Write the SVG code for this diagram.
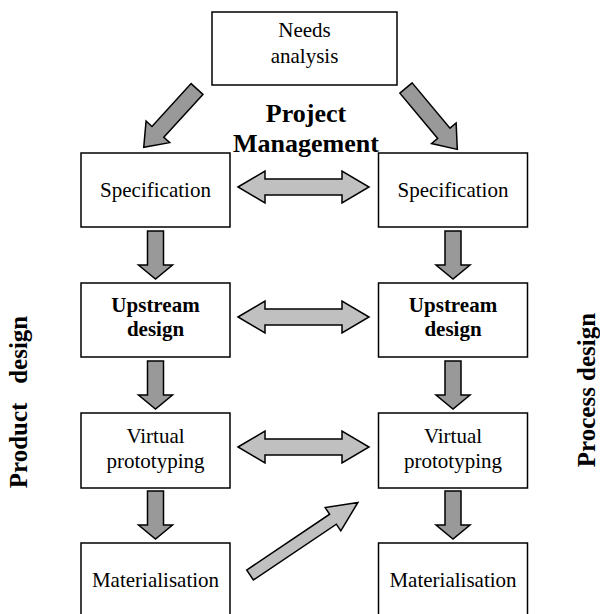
<svg xmlns="http://www.w3.org/2000/svg" xmlns:xlink="http://www.w3.org/1999/xlink" width="600" height="614" viewBox="0 0 600 614">
<style>
.box{fill:#fff;stroke:#000;stroke-width:1.5}
.t{font-family:"Liberation Serif","Times New Roman",serif;font-size:21px;fill:#000;text-anchor:middle}
.b{font-weight:bold}
.dark{fill:#999;stroke:#000;stroke-width:1.5;stroke-linejoin:miter}
.light{fill:#c0c0c0;stroke:#000;stroke-width:1.5;stroke-linejoin:miter}
.side{font-family:"Liberation Serif","Times New Roman",serif;font-size:25px;font-weight:bold;fill:#000;text-anchor:middle;white-space:pre}
</style>
<defs>
<path id="dbl" d="M0,0 L27,-16 L27,-8 L104,-8 L104,-16 L131,0 L104,16 L104,8 L27,8 L27,16 Z"/>
<path id="down" d="M-8,0 L8,0 L8,34 L17,34 L0,48 L-17,34 L-8,34 Z"/>
</defs>
<g id="connectors">
<polygon class="dark" points="0,-8 58,-8 58,-16 79,0 58,16 58,8 0,8" transform="translate(197,89) rotate(132.4)"/>
<polygon class="dark" points="0,-8 59,-8 59,-16 80,0 59,16 59,8 0,8" transform="translate(406,88) rotate(50.1)"/>
<use xlink:href="#dbl" class="light" transform="translate(238,187)"/>
<use xlink:href="#dbl" class="light" transform="translate(238,317)"/>
<use xlink:href="#dbl" class="light" transform="translate(238,447)"/>
<use xlink:href="#down" class="dark" transform="translate(155.5,231)"/>
<use xlink:href="#down" class="dark" transform="translate(155.5,361)"/>
<use xlink:href="#down" class="dark" transform="translate(155.5,491)"/>
<use xlink:href="#down" class="dark" transform="translate(453,231)"/>
<use xlink:href="#down" class="dark" transform="translate(453,361)"/>
<use xlink:href="#down" class="dark" transform="translate(453,491)"/>
<polygon class="light" points="0,-6 100,-6 100,-14 130,0 100,14 100,6 0,6" transform="translate(250,575) rotate(-33.9)"/>
</g>
<g id="needs">
<rect class="box" x="212" y="12" width="185" height="73"/>
<text class="t" x="304.5" y="37">Needs</text>
<text class="t" x="304.5" y="63">analysis</text>
</g>
<g id="pm">
<text class="t b" x="306" y="122" style="font-size:26px">Project</text>
<text class="t b" x="306" y="152" style="font-size:26px">Management</text>
</g>
<g id="spec-l">
<rect class="box" x="81" y="153" width="149" height="74"/>
<text class="t" x="155.5" y="197">Specification</text>
</g>
<g id="spec-r">
<rect class="box" x="378.5" y="153" width="149" height="74"/>
<text class="t" x="453" y="197">Specification</text>
</g>
<g id="up-l">
<rect class="box" x="81" y="283" width="149" height="74"/>
<text class="t b" x="155.5" y="312">Upstream</text>
<text class="t b" x="155.5" y="336">design</text>
</g>
<g id="up-r">
<rect class="box" x="378.5" y="283" width="149" height="74"/>
<text class="t b" x="453" y="312">Upstream</text>
<text class="t b" x="453" y="336">design</text>
</g>
<g id="vp-l">
<rect class="box" x="81" y="413" width="149" height="75"/>
<text class="t" x="155.5" y="443">Virtual</text>
<text class="t" x="155.5" y="468">prototyping</text>
</g>
<g id="vp-r">
<rect class="box" x="378.5" y="413" width="149" height="75"/>
<text class="t" x="453" y="443">Virtual</text>
<text class="t" x="453" y="468">prototyping</text>
</g>
<g id="mat-l">
<rect class="box" x="81" y="543" width="149" height="80"/>
<text class="t" x="155.5" y="587">Materialisation</text>
</g>
<g id="mat-r">
<rect class="box" x="378.5" y="543" width="149" height="80"/>
<text class="t" x="453" y="587">Materialisation</text>
</g>
<g id="labels">
<text class="side" transform="translate(27,402) rotate(-90)">Product   design</text>
<text class="side" transform="translate(595,390) rotate(-90)">Process design</text>
</g>
</svg>
